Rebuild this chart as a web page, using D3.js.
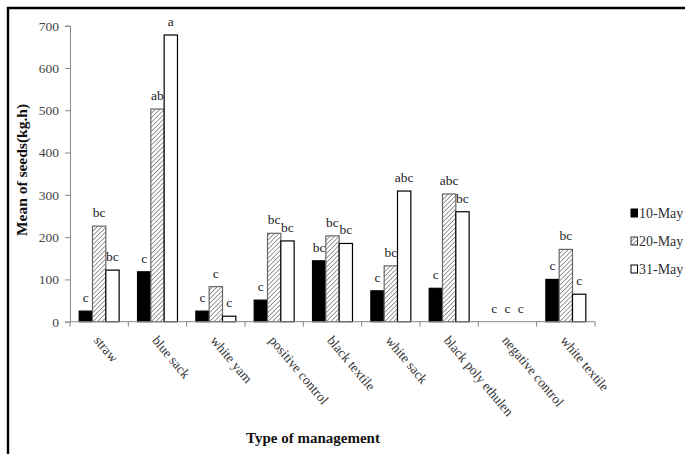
<!DOCTYPE html>
<html>
<head>
<meta charset="utf-8">
<script src="https://cdn.jsdelivr.net/npm/d3@7"></script>
<style>
  html, body { margin: 0; padding: 0; background: #fff; }
  svg { display: block; }
  text { font-family: "Liberation Serif", "Times New Roman", serif; }
</style>
</head>
<body>
<svg id="chart" width="685" height="454"></svg>
<script>
// Seed means per management type, three sampling dates
const categories = ["straw", "blue sack", "white yam", "positive control", "black textile",
                    "white sack", "black poly ethulen", "negative control", "white textile"];
const seriesNames = ["10-May", "20-May", "31-May"];
const may10 = [25, 118, 25, 51, 144, 73, 79, 0, 100];
const may20 = [226, 503, 83, 209, 203, 132, 302, 0, 171];
const may31 = [122, 678, 13, 191, 185, 309, 260, 0, 65];
const letters10 = ["c", "c", "c", "c", "bc", "c", "c", "c", "c"];
const letters20 = ["bc", "ab", "c", "bc", "bc", "bc", "abc", "c", "bc"];
const letters31 = ["bc", "a", "c", "bc", "bc", "abc", "bc", "c", "c"];
const yTicks = [0, 100, 200, 300, 400, 500, 600, 700];

const seriesValues = [may10, may20, may31];
const seriesLetters = [letters10, letters20, letters31];
const serif = "'Liberation Serif', 'Times New Roman', serif";

const svg = d3.select("#chart");

// hatch pattern for the middle series
const defs = svg.append("defs");
const pat = defs.append("pattern")
  .attr("id", "hatch")
  .attr("patternUnits", "userSpaceOnUse")
  .attr("width", 3.2).attr("height", 3.2)
  .attr("patternTransform", "rotate(45)");
pat.append("rect").attr("width", 3.2).attr("height", 3.2).attr("fill", "#fff");
pat.append("line").attr("x1", 0).attr("y1", 0).attr("x2", 0).attr("y2", 3.2)
  .attr("stroke", "#707070").attr("stroke-width", 1.4);

const fills = ["#000", "url(#hatch)", "#fff"];
const strokes = ["#000", "#666", "#000"];

// frame
svg.append("line").attr("x1", 7).attr("x2", 685).attr("y1", 8).attr("y2", 8)
  .attr("stroke", "#000").attr("stroke-width", 2.4);
svg.append("line").attr("x1", 8).attr("x2", 8).attr("y1", 7).attr("y2", 454)
  .attr("stroke", "#000").attr("stroke-width", 2.4);

const plotLeft = 70, plotRight = 595, plotTop = 25.7, plotBottom = 321.7;

const y = d3.scaleLinear().domain([0, 700]).range([plotBottom, plotTop]);
const x0 = d3.scaleBand().domain(categories).range([plotLeft, plotRight]).padding(0);
const x1 = d3.scaleBand().domain(seriesNames).range([0, x0.bandwidth()])
  .paddingInner(0).paddingOuter(0.69);

// y axis
const yAxis = svg.append("g").attr("transform", `translate(${plotLeft},0)`)
  .call(d3.axisLeft(y).tickValues(yTicks).tickSize(5).tickPadding(6).tickFormat(d3.format("d")));
yAxis.select(".domain").attr("stroke", "#888");
yAxis.selectAll(".tick line").attr("stroke", "#888");
yAxis.selectAll(".tick text").attr("font-size", 13.5).attr("fill", "#444")
  .style("font-family", serif);

// bars
const groups = svg.append("g").selectAll("g")
  .data(categories).join("g")
  .attr("transform", d => `translate(${x0(d)},0)`);

groups.each(function(cat, ci) {
  const g = d3.select(this);
  seriesNames.forEach((s, si) => {
    const v = seriesValues[si][ci];
    if (v > 0) {
      g.append("rect")
        .attr("x", x1(s))
        .attr("y", y(v))
        .attr("width", x1.bandwidth())
        .attr("height", y(0) - y(v))
        .attr("fill", fills[si])
        .attr("stroke", strokes[si])
        .attr("stroke-width", 1.2);
    }
    g.append("text")
      .attr("x", x1(s) + x1.bandwidth() / 2)
      .attr("y", y(v) - 9)
      .attr("text-anchor", "middle")
      .attr("font-size", 13.5)
      .attr("fill", "#222")
      .style("font-family", serif)
      .text(seriesLetters[si][ci]);
  });
});

// x axis line and boundary ticks
svg.append("line").attr("x1", plotLeft).attr("x2", plotRight).attr("y1", plotBottom).attr("y2", plotBottom)
  .attr("stroke", "#888").attr("stroke-width", 1);
const boundaries = d3.range(categories.length + 1);
svg.append("g").selectAll("line").data(boundaries).join("line")
  .attr("x1", i => plotLeft + i * x0.step()).attr("x2", i => plotLeft + i * x0.step())
  .attr("y1", plotBottom).attr("y2", plotBottom + 5)
  .attr("stroke", "#888");

// category labels, rotated
svg.append("g").selectAll("text").data(categories).join("text")
  .attr("transform", d => `translate(${x0(d) + x0.bandwidth() / 2 - 6},${plotBottom + 19}) rotate(50)`)
  .attr("font-size", 13.5)
  .attr("fill", "#333")
  .style("font-family", serif)
  .text(d => d);

// axis titles
svg.append("text")
  .attr("transform", `translate(27,170) rotate(-90)`)
  .attr("text-anchor", "middle")
  .attr("font-size", 15.5).attr("font-weight", "bold").attr("fill", "#111")
  .style("font-family", serif)
  .text("Mean of seeds(kg.h)");
svg.append("text")
  .attr("x", 313).attr("y", 443)
  .attr("text-anchor", "middle")
  .attr("font-size", 15).attr("font-weight", "bold").attr("fill", "#111")
  .style("font-family", serif)
  .text("Type of management");

// legend
const legend = svg.append("g").selectAll("g").data(seriesNames).join("g")
  .attr("transform", (d, i) => `translate(631,${213 + i * 28})`);
legend.append("rect")
  .attr("x", 0).attr("y", -4).attr("width", 6.5).attr("height", 8)
  .attr("fill", (d, i) => fills[i])
  .attr("stroke", (d, i) => i === 1 ? "#333" : "#000")
  .attr("stroke-width", 1);
legend.append("text")
  .attr("x", 8).attr("y", 5)
  .attr("font-size", 14).attr("fill", "#333")
  .style("font-family", serif)
  .text(d => d);
</script>
</body>
</html>
